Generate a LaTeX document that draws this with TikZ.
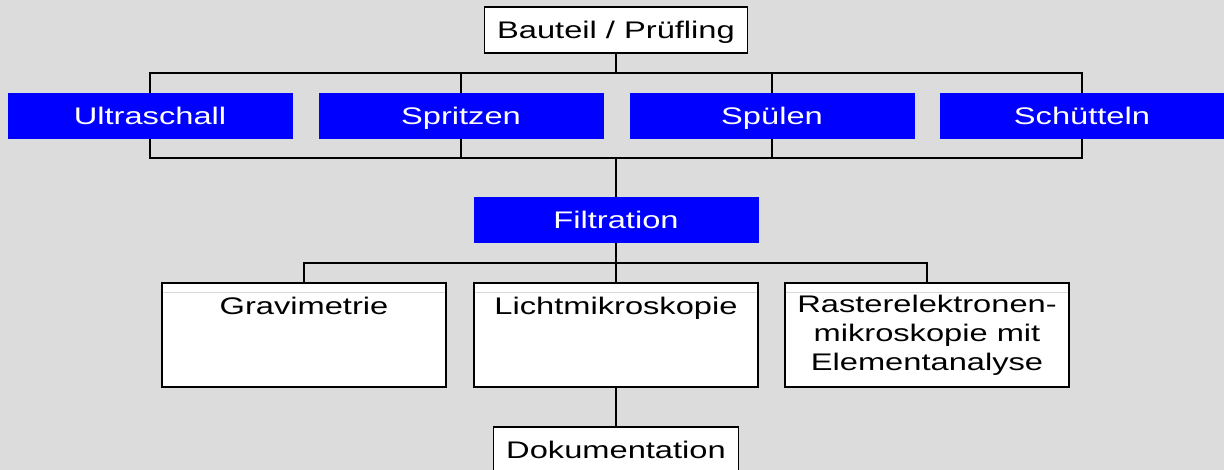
\documentclass[tikz,border=0pt]{standalone}
\usepackage{fontspec}
\setmainfont{Liberation Sans}[FakeStretch=1.36]
\usetikzlibrary{backgrounds,positioning}
\definecolor{bggrey}{RGB}{220,220,220}

\begin{document}
\begin{tikzpicture}[x=1pt,y=1pt,node distance=115pt,font=\fontsize{24}{29}\selectfont]

		\tikzstyle{plain}=[rectangle,draw=black,line width=1.5pt,fill=white,minimum height=46pt,inner xsep=12.5pt,text height=17pt,text depth=0pt]
		\tikzstyle{method}=[rectangle,fill=blue,text=white,minimum width=285pt,minimum height=46pt,text height=17pt,text depth=0pt]
		\tikzstyle{result}=[rectangle,draw=black,line width=1.5pt,fill=white,minimum width=284pt,minimum height=104pt,align=center,
			path picture={\draw[black!15,line width=0.8pt] ([yshift=-9pt]path picture bounding box.north west) -- ([yshift=-9pt]path picture bounding box.north east);}]
		\tikzstyle{link}=[draw=black,line width=1.5pt]

		\useasboundingbox (0,0) rectangle (1224,470);

		\node [plain] (part) at (616,440) {Bauteil / Prüfling};
		\node [method] (ultra) at (150,354) {Ultraschall};
		\node [method] (spray) [right of=ultra,node distance=311pt] {Spritzen};
		\node [method] (rinse) [right of=spray,node distance=311pt] {Spülen};
		\node [method] (shake) [right of=rinse,node distance=310pt] {Schütteln};
		\node [method] (filt) [below of=part,node distance=190pt] {Filtration};
		\node [result] (light) [below of=filt] {Lichtmikroskopie\\~\\~};
		\node [result] (grav) [left of=light,node distance=312pt] {Gravimetrie\\~\\~};
		\node [result] (sem) [right of=light,node distance=311pt] {Rasterelektronen-\\mikroskopie mit\\Elementanalyse};
		\node [plain] (doc) [below of=light] {Dokumentation};

		\begin{scope}[on background layer]
			\fill [bggrey] (0,0) rectangle (1224,470);
			\coordinate (bus1) at ([yshift=20pt]ultra.north);
			\coordinate (bus2) at ([yshift=-19pt]ultra.south);
			\coordinate (bus3) at ([yshift=-20pt]filt.south);
			\draw [link] (part) -- (part |- bus1);
			\draw [link] (ultra) -- (bus1) -| (shake);
			\draw [link] (ultra) -- (bus2) -| (shake);
			\draw [link] (spray |- bus1) -- (spray |- bus2);
			\draw [link] (rinse |- bus1) -- (rinse |- bus2);
			\draw [link] (filt) -- (filt |- bus2);
			\draw [link] (grav) -- (grav |- bus3) -- (sem |- bus3) -- (sem);
			\draw [link] (filt) -- (light);
			\draw [link] (light) -- (doc);
		\end{scope}
\end{tikzpicture}
\end{document}
